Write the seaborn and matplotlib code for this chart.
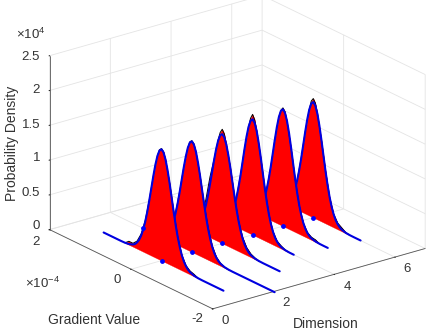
import seaborn as sns
import matplotlib.pyplot as plt

sns.set_style("white")
plt.rcParams['font.family'] = ['Liberation Sans', 'DejaVu Sans']
plt.rcParams['mathtext.fontset'] = 'custom'
plt.rcParams['mathtext.rm'] = 'Liberation Sans'
plt.rcParams['mathtext.default'] = 'regular'
plt.rcParams['grid.color'] = '#e4e4e4'
plt.rcParams['grid.linewidth'] = 0.6

# gradient value in units of 1e-4, density in units of 1e4
dimensions = [1, 2, 3, 4, 5, 6]
grad_fit = [-1.0, -0.9, -0.8, -0.7, -0.65, -0.6, -0.55, -0.5, -0.45, -0.4, -0.35, -0.3, -0.25, -0.2, -0.15, -0.1, -0.05, 0.0,
            0.05, 0.1, 0.15, 0.2, 0.25, 0.3, 0.35, 0.4, 0.45, 0.5, 0.55, 0.6, 0.65, 0.7, 0.8, 0.9, 1.0]
fit_1 = [0, 0.002, 0.010, 0.032, 0.054, 0.090, 0.142, 0.216, 0.317, 0.445, 0.600, 0.779, 0.970, 1.162, 1.337, 1.477, 1.568, 1.60,
         1.568, 1.477, 1.337, 1.162, 0.970, 0.779, 0.600, 0.445, 0.317, 0.216, 0.142, 0.090, 0.054, 0.032, 0.010, 0.002, 0]
fit_2 = [0, 0.002, 0.010, 0.032, 0.054, 0.089, 0.141, 0.215, 0.315, 0.442, 0.596, 0.774, 0.964, 1.155, 1.328, 1.468, 1.558, 1.59,
         1.558, 1.468, 1.328, 1.155, 0.964, 0.774, 0.596, 0.442, 0.315, 0.215, 0.141, 0.089, 0.054, 0.032, 0.010, 0.002, 0]
fit_3 = [0, 0.002, 0.010, 0.031, 0.053, 0.088, 0.139, 0.212, 0.311, 0.437, 0.589, 0.765, 0.952, 1.140, 1.311, 1.449, 1.539, 1.57,
         1.539, 1.449, 1.311, 1.140, 0.952, 0.765, 0.589, 0.437, 0.311, 0.212, 0.139, 0.088, 0.053, 0.031, 0.010, 0.002, 0]
fit_4 = [0, 0.001, 0.006, 0.023, 0.041, 0.071, 0.117, 0.186, 0.281, 0.408, 0.567, 0.753, 0.959, 1.169, 1.363, 1.521, 1.623, 1.66,
         1.623, 1.521, 1.363, 1.169, 0.959, 0.753, 0.567, 0.408, 0.281, 0.186, 0.117, 0.071, 0.041, 0.023, 0.006, 0.001, 0]
fit_5 = [0, 0.001, 0.006, 0.023, 0.041, 0.071, 0.119, 0.188, 0.285, 0.413, 0.573, 0.763, 0.971, 1.183, 1.379, 1.539, 1.643, 1.68,
         1.643, 1.539, 1.379, 1.183, 0.971, 0.763, 0.573, 0.413, 0.285, 0.188, 0.119, 0.071, 0.041, 0.023, 0.006, 0.001, 0]
fit_6 = [0, 0.001, 0.006, 0.023, 0.041, 0.071, 0.117, 0.186, 0.281, 0.408, 0.567, 0.753, 0.959, 1.169, 1.363, 1.521, 1.623, 1.66,
         1.623, 1.521, 1.363, 1.169, 0.959, 0.753, 0.567, 0.408, 0.281, 0.186, 0.117, 0.071, 0.041, 0.023, 0.006, 0.001, 0]
fits = [fit_1, fit_2, fit_3, fit_4, fit_5, fit_6]
# where each flat tail of the fitted line stops
tail_low = [-1.52, -2.03, -1.41, -1.01, -1.10, -1.16]
tail_high = [1.42, 1.19, 1.05, 1.05, 1.05, 1.05]

grad_kde = [-0.9, -0.8, -0.7, -0.6, -0.5, -0.4, -0.3, -0.2, -0.1, -0.05, 0.0,
            0.05, 0.1, 0.2, 0.3, 0.4, 0.5, 0.6, 0.7, 0.8, 0.9]
kde_1 = [0.0, 0.03, 0.05, 0.10, 0.22, 0.45, 0.79, 1.17, 1.48, 1.58, 1.61, 1.58, 1.48, 1.16, 0.79, 0.46, 0.24, 0.11, 0.05, 0.05, 0.0]
kde_2 = [0.0, 0.01, 0.04, 0.10, 0.23, 0.46, 0.78, 1.16, 1.47, 1.57, 1.60, 1.57, 1.47, 1.16, 0.78, 0.45, 0.23, 0.10, 0.03, 0.01, 0.0]
kde_3 = [0.0, 0.02, 0.05, 0.11, 0.23, 0.44, 0.77, 1.15, 1.46, 1.59, 1.64, 1.58, 1.46, 1.15, 0.87, 0.52, 0.24, 0.10, 0.03, 0.01, 0.0]
kde_4 = [0.0, 0.01, 0.04, 0.08, 0.19, 0.41, 0.76, 1.17, 1.53, 1.67, 1.73, 1.66, 1.52, 1.17, 0.76, 0.41, 0.19, 0.08, 0.03, 0.01, 0.0]
kde_5 = [0.0, 0.03, 0.04, 0.08, 0.19, 0.41, 0.76, 1.18, 1.54, 1.66, 1.70, 1.65, 1.54, 1.18, 0.76, 0.41, 0.19, 0.07, 0.02, 0.01, 0.0]
kde_6 = [0.0, 0.01, 0.05, 0.09, 0.19, 0.41, 0.76, 1.17, 1.53, 1.66, 1.71, 1.66, 1.52, 1.17, 0.76, 0.41, 0.19, 0.07, 0.02, 0.01, 0.0]
kdes = [kde_1, kde_2, kde_3, kde_4, kde_5, kde_6]

extra_x = [2]
extra_grad = [1.19]
extra_dens = [0]

x_ticks = [0, 2, 4, 6]
y_ticks = [-2, 0, 2]
z_ticks = [0, 0.5, 1, 1.5, 2, 2.5]
x_tick_labels = ['0', '2', '4', '6']
y_tick_labels = ['-2', '0', '2']
z_tick_labels = ['0', '0.5', '1', '1.5', '2', '2.5']

fig = plt.figure(figsize=(4.43, 3.32), dpi=100)
side = 400
ax = fig.add_axes([(232 - side / 2) / 443, (174.5 - side / 2) / 332, side / 443, side / 332], projection='3d')
ax.computed_zorder = False
ax.set_proj_type('ortho')
ax.view_init(elev=21.8, azim=-127.4)
ax.set_box_aspect((267, 268, 187), zoom=1.026)
ax.patch.set_alpha(0)

ink = '#333333'
order = 1
rows = list(zip(dimensions, fits, kdes, tail_low, tail_high))
for d, fit, kde, low, high in reversed(rows):
    grad_line = [low] + grad_fit + [high]
    dens_line = [0] + fit + [0]
    ax.fill_between([d] * len(grad_kde), grad_kde, kde, [d] * len(grad_kde), grad_kde, [0] * len(grad_kde),
                    mode='polygon', facecolor='red', edgecolor='red', linewidth=0.2, zorder=order)
    ax.plot([d] * len(grad_kde), grad_kde, kde, color='black', linewidth=0.7, zorder=order + 1)
    ax.plot([d] * len(grad_line), grad_line, dens_line, color='#0000e0', linewidth=1.5, zorder=order + 2)
    ax.scatter([d], [0], [0], color='#0000ff', s=6, depthshade=False, zorder=order + 3)
    order += 4
ax.scatter(extra_x, extra_grad, extra_dens, color='#0000ff', s=6, depthshade=False, zorder=order)

ax.set_xlim(0, 7)
ax.set_ylim(-2, 2)
ax.set_zlim(0, 2.5)
ax.set_xticks(x_ticks)
ax.set_yticks(y_ticks)
ax.set_zticks(z_ticks)
ax.set_xticklabels([])
ax.set_yticklabels([])
ax.set_zticklabels([])

for axis in (ax.xaxis, ax.yaxis, ax.zaxis):
    axis.set_pane_color((1, 1, 1, 0))
    axis.pane.set_edgecolor('#e4e4e4')
    axis.pane.set_linewidth(0.6)
    axis.line.set_color('#555555')
    axis.line.set_linewidth(0.6)
    axis._axinfo['tick'].update({'inward_factor': 0.03, 'outward_factor': 0.0})


def label_at(px, py, text, size=9.5, **kw):
    kw.setdefault('ha', 'center')
    fig.text(px / 443, 1 - py / 332, text, fontsize=size, color=ink, va='center', **kw)


# tick labels placed where the reference has them (pixels)
for text, px, py in zip(x_tick_labels, [225, 286, 347, 407], [321, 303, 287, 269]):
    label_at(px, py, text)
for text, px, py in zip(y_tick_labels, [197, 117, 36], [319, 280, 242]):
    label_at(px, py, text)
for text, py in zip(z_tick_labels, [226, 192.5, 158, 125, 90, 56.5]):
    label_at(40, py, text, ha='right')

label_at(326, 324, 'Dimension', size=10)
label_at(94, 320, 'Gradient Value', size=10)
label_at(12, 143, 'Probability Density', size=10, rotation=90)
label_at(31, 34, r'$\times10^{4}$')
label_at(42, 283, r'$\times10^{-4}$')

plt.savefig('out.png', dpi=100)
